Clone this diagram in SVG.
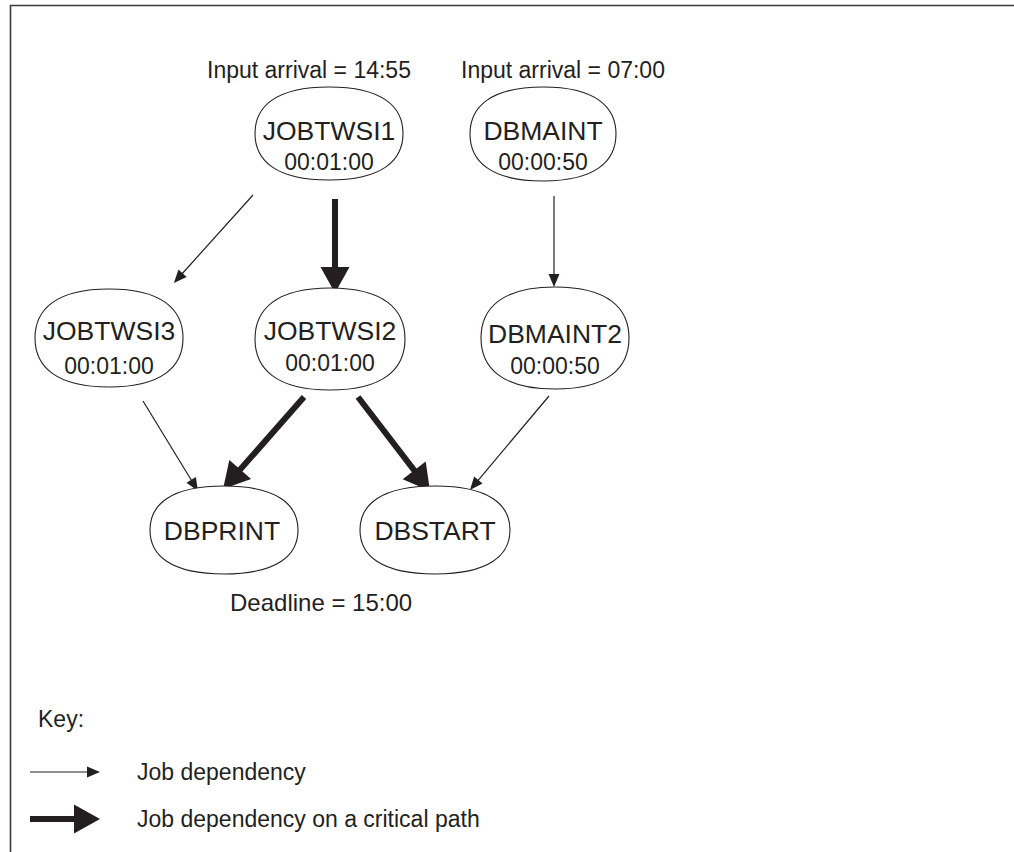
<svg xmlns="http://www.w3.org/2000/svg" width="1014" height="852" viewBox="0 0 1014 852">
  <style>
    text { font-family: "Liberation Sans", Arial, Helvetica, sans-serif; fill: #231f20; }
    .name { font-size: 26.5px; text-anchor: middle; }
    .time { font-size: 23px; text-anchor: middle; }
    .label { font-size: 23px; }
    .node { fill: #ffffff; stroke: #231f20; stroke-width: 1.1; }
    .thin { stroke: #231f20; stroke-width: 1.2; fill: none; marker-end: url(#headThin); }
    .thick { stroke: #231f20; stroke-width: 6; fill: none; marker-end: url(#headThick); }
    .frame { stroke: #3a3a3a; stroke-width: 1.6; fill: none; }
  </style>
  <defs>
    <marker id="headThin" markerUnits="userSpaceOnUse" markerWidth="14" markerHeight="12" refX="1" refY="5.5" orient="auto" overflow="visible">
      <path d="M0,0 L13,5.5 L0,11 Z" fill="#231f20"/>
    </marker>
    <marker id="headThick" markerUnits="userSpaceOnUse" markerWidth="28" markerHeight="30" refX="2" refY="14.5" orient="auto" overflow="visible">
      <path d="M0,0 L26,14.5 L0,29 Z" fill="#231f20"/>
    </marker>
  </defs>

  <rect width="1014" height="852" fill="#ffffff"/>

  <!-- page frame: top and left rules -->
  <g id="frame">
    <line class="frame" x1="10" y1="5.5" x2="1014" y2="5.5"/>
    <line class="frame" x1="10.5" y1="5" x2="10.5" y2="852"/>
  </g>

  <!-- dependencies -->
  <g id="connectors">
    <line class="thin" x1="253" y1="195" x2="181.9" y2="274"/>
    <line class="thick" x1="335" y1="199" x2="335" y2="269"/>
    <line class="thin" x1="554" y1="196" x2="554" y2="275"/>
    <line class="thin" x1="143" y1="401" x2="191.7" y2="480.8"/>
    <line class="thick" x1="304" y1="397" x2="238.9" y2="471"/>
    <line class="thick" x1="358" y1="397" x2="415.4" y2="471.9"/>
    <line class="thin" x1="549" y1="396" x2="477.7" y2="480.8"/>
  </g>

  <!-- jobs -->
  <g id="JOBTWSI1">
    <path class="node" d="M329,87 C382.3,87 403,106.6 403,133.5 C403,160.4 382.3,180 329,180 C275.7,180 255,160.4 255,133.5 C255,106.6 275.7,87 329,87Z"/>
    <text class="name" x="329" y="140">JOBTWSI1</text>
    <text class="time" x="329" y="170">00:01:00</text>
  </g>
  <g id="DBMAINT">
    <path class="node" d="M543,87 C595.6,87 616,106.9 616,134 C616,161.1 595.6,181 543,181 C490.4,181 470,161.1 470,134 C470,106.9 490.4,87 543,87Z"/>
    <text class="name" x="543" y="140">DBMAINT</text>
    <text class="time" x="543" y="170">00:00:50</text>
  </g>
  <g id="JOBTWSI3">
    <path class="node" d="M109,289 C162.3,289 183,309.6 183,338 C183,366.4 162.3,387 109,387 C55.7,387 35,366.4 35,338 C35,309.6 55.7,289 109,289Z"/>
    <text class="name" x="109" y="340">JOBTWSI3</text>
    <text class="time" x="109" y="374">00:01:00</text>
  </g>
  <g id="JOBTWSI2">
    <path class="node" d="M330,288 C384,288 405,309.4 405,339 C405,368.6 384,390 330,390 C276,390 255,368.6 255,339 C255,309.4 276,288 330,288Z"/>
    <text class="name" x="330" y="340">JOBTWSI2</text>
    <text class="time" x="330" y="371">00:01:00</text>
  </g>
  <g id="DBMAINT2">
    <path class="node" d="M555,287 C608.3,287 629,308.4 629,338 C629,367.6 608.3,389 555,389 C501.7,389 481,367.6 481,338 C481,308.4 501.7,287 555,287Z"/>
    <text class="name" x="555" y="343">DBMAINT2</text>
    <text class="time" x="555" y="374">00:00:50</text>
  </g>
  <g id="DBPRINT">
    <path class="node" d="M224,486 C277.3,486 298,504.5 298,530 C298,555.5 277.3,574 224,574 C170.7,574 150,555.5 150,530 C150,504.5 170.7,486 224,486Z"/>
    <text class="name" x="222" y="540">DBPRINT</text>
  </g>
  <g id="DBSTART">
    <path class="node" d="M435,486 C489,486 510,504.5 510,530 C510,555.5 489,574 435,574 C381,574 360,555.5 360,530 C360,504.5 381,486 435,486Z"/>
    <text class="name" x="435" y="540">DBSTART</text>
  </g>

  <!-- timing notes -->
  <g id="notes">
    <text class="label" x="207" y="78">Input arrival = 14:55</text>
    <text class="label" x="461" y="78">Input arrival = 07:00</text>
    <text class="label" x="230" y="611" style="font-size:24px">Deadline = 15:00</text>
  </g>

  <!-- legend -->
  <g id="key">
    <text class="label" x="38" y="727">Key:</text>
    <line class="thin" x1="30" y1="772" x2="88" y2="772"/>
    <text class="label" x="137" y="780">Job dependency</text>
    <line class="thick" x1="30" y1="819" x2="76" y2="819"/>
    <text class="label" x="137" y="827">Job dependency on a critical path</text>
  </g>
</svg>
